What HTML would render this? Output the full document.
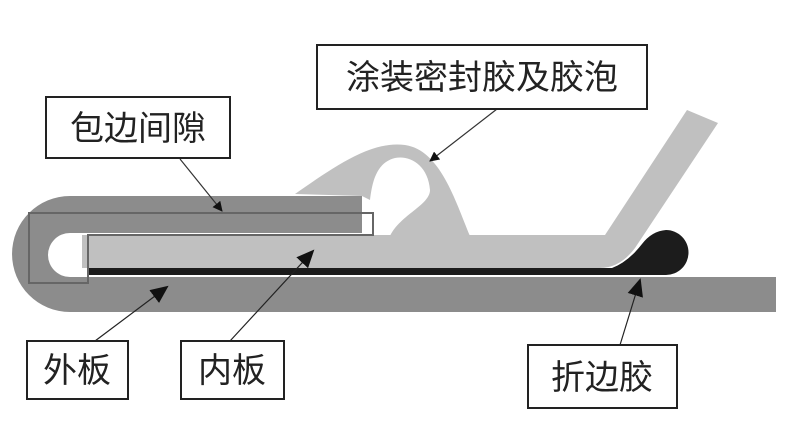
<!DOCTYPE html>
<html><head><meta charset="utf-8"><style>
body{margin:0;background:#fff;width:810px;height:428px;overflow:hidden}
svg text{font-family:"Liberation Sans","Noto Sans CJK SC",sans-serif;fill:#222}
</style></head><body>
<svg width="810" height="428" viewBox="0 0 810 428" xmlns="http://www.w3.org/2000/svg">
<defs><marker id="a" markerWidth="10" markerHeight="10" refX="9" refY="5" orient="auto" markerUnits="userSpaceOnUse"><path d="M0,0 L10,5 L0,10 z" fill="#111"/></marker>
<marker id="b" markerWidth="18" markerHeight="16" refX="16" refY="8" orient="auto" markerUnits="userSpaceOnUse"><path d="M0,0 L18,8 L0,16 z" fill="#111"/></marker></defs>
<path d="M362,196 L70,196 A58,58 0 0 0 70,312 L776,312 L776,277 L88,277 L70,277 A22,22 0 0 1 70,233 L362,233 Z" fill="#8c8c8c"/>
<path d="M295,194 C330,170 370,140 405,145 C440,150 455,200 470,236 L390,236 C400,215 430,205 430,190 C428,165 410,155 395,158 C375,163 372,185 370,200 L362,196 Z" fill="#c0c0c0"/>
<path d="M82,235 L605,235 L687,110 L718,123 L635,248 Q620,268 600,268 L82,268 Z" fill="#c0c0c0"/>
<path d="M88,268 L612,268 Q628,262 642,244 Q652,231 666,230 A22,22 0 0 1 666,275 L88,275 Z" fill="#1c1c1c"/>
<path d="M29,213 L373,213 L373,235 L88,235 L88,283 L29,283 Z" fill="none" stroke="#666" stroke-width="2"/>
<rect x="363" y="214" width="9" height="20" fill="#fff"/>
<line x1="180" y1="159" x2="222" y2="211" stroke="#333" stroke-width="1.2" marker-end="url(#a)"/>
<line x1="497" y1="109" x2="430" y2="161" stroke="#333" stroke-width="1.2" marker-end="url(#a)"/>
<line x1="95" y1="341" x2="167" y2="287" stroke="#222" stroke-width="1.2" marker-end="url(#b)"/>
<line x1="230" y1="341" x2="313" y2="251" stroke="#222" stroke-width="1.2" marker-end="url(#b)"/>
<line x1="620" y1="345" x2="640" y2="280" stroke="#222" stroke-width="1.2" marker-end="url(#b)"/>
<g fill="#fff" stroke="#222" stroke-width="2">
<rect x="46" y="97" width="184" height="61"/>
<rect x="317" y="45" width="330" height="64"/>
<rect x="27" y="341" width="101" height="58"/>
<rect x="181" y="341" width="103" height="58"/>
<rect x="528" y="345" width="149" height="63"/>
</g>
<g font-size="34" text-anchor="middle">
<text x="138" y="140">包边间隙</text>
<text x="482" y="89">涂装密封胶及胶泡</text>
<text x="77" y="382">外板</text>
<text x="232" y="382">内板</text>
<text x="602" y="389">折边胶</text>
</g>
</svg>
</body></html>
